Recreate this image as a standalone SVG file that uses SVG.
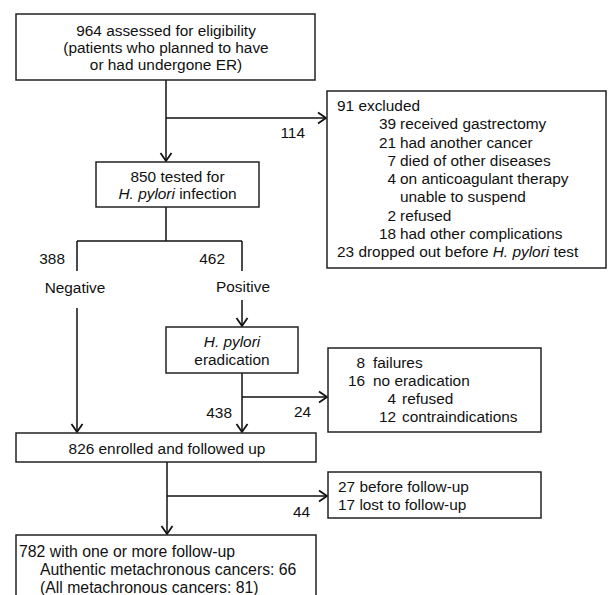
<svg xmlns="http://www.w3.org/2000/svg" width="608" height="595" viewBox="0 0 608 595">
<style>
.box{fill:#fff;stroke:#222;stroke-width:1.5}
.ln{fill:none;stroke:#111;stroke-width:1.5}
text{font-family:"Liberation Sans",Arial,sans-serif;font-size:15.4px;fill:#111}
.m{text-anchor:middle}
.e{text-anchor:end}
.i{font-style:italic}
.big{font-size:15.8px}
</style>
<defs>
<marker id="arr" viewBox="-10 -7 12 14" refX="0" refY="0" markerWidth="12" markerHeight="14" markerUnits="userSpaceOnUse" orient="auto">
<path d="M-8,-5.5 L0,0 L-8,5.5" fill="none" stroke="#111" stroke-width="1.8"/>
</marker>
</defs>
<rect width="608" height="595" fill="#fff"/>
<g id="connectors">
<path class="ln" d="M166,80 V161" marker-end="url(#arr)"/>
<path class="ln" d="M166,118 H326" marker-end="url(#arr)"/>
<path class="ln" d="M166,207 V241 M77,241 H242 M77,241 V271 M242,241 V271"/>
<path class="ln" d="M77,308 V432" marker-end="url(#arr)"/>
<path class="ln" d="M242,300 V326" marker-end="url(#arr)"/>
<path class="ln" d="M242,373 V432" marker-end="url(#arr)"/>
<path class="ln" d="M242,397 H327" marker-end="url(#arr)"/>
<path class="ln" d="M167,462 V534" marker-end="url(#arr)"/>
<path class="ln" d="M167,496 H327" marker-end="url(#arr)"/>
<text class="e" x="305" y="138">114</text>
<text class="e" x="65" y="264">388</text>
<text class="e" x="225" y="264">462</text>
<text class="m" x="75" y="293">Negative</text>
<text class="m" x="243" y="292">Positive</text>
<text class="e" x="232" y="418">438</text>
<text class="e" x="311" y="417">24</text>
<text class="e" x="310" y="517">44</text>
</g>
<g id="assessed">
<rect class="box" x="16" y="14" width="299" height="66"/>
<text class="m" x="166" y="36">964 assessed for eligibility</text>
<text class="m" x="166" y="53">(patients who planned to have</text>
<text class="m" x="166" y="70">or had undergone ER)</text>
</g>
<g id="tested">
<rect class="box" x="96" y="162" width="163" height="45"/>
<text class="m" x="177.5" y="182">850 tested for</text>
<text class="m" x="177.5" y="199"><tspan class="i">H. pylori</tspan> infection</text>
</g>
<g id="excluded">
<rect class="box" x="327" y="91" width="279" height="177"/>
<text x="337" y="111">91 excluded</text>
<text class="e" x="396" y="129">39</text><text x="400" y="129">received gastrectomy</text>
<text class="e" x="396" y="148">21</text><text x="400" y="148">had another cancer</text>
<text class="e" x="396" y="166">7</text><text x="400" y="166">died of other diseases</text>
<text class="e" x="396" y="184">4</text><text x="400" y="184">on anticoagulant therapy</text>
<text x="400" y="202">unable to suspend</text>
<text class="e" x="396" y="221">2</text><text x="400" y="221">refused</text>
<text class="e" x="396" y="239">18</text><text x="400" y="239">had other complications</text>
<text x="337" y="257">23 dropped out before <tspan class="i">H. pylori</tspan> test</text>
</g>
<g id="eradication">
<rect class="box" x="166" y="327" width="132" height="46"/>
<text class="m i" x="232" y="347">H. pylori</text>
<text class="m" x="232" y="365">eradication</text>
</g>
<g id="failures">
<rect class="box" x="328" y="348" width="213" height="84"/>
<text class="e" x="365" y="368">8</text><text x="373" y="368">failures</text>
<text class="e" x="365" y="386">16</text><text x="373" y="386">no eradication</text>
<text class="e" x="396" y="404">4</text><text x="402" y="404">refused</text>
<text class="e" x="396" y="422">12</text><text x="402" y="422">contraindications</text>
</g>
<g id="enrolled">
<rect class="box" x="16" y="433" width="300" height="29"/>
<text class="m" x="167" y="454">826 enrolled and followed up</text>
</g>
<g id="lost">
<rect class="box" x="328" y="472" width="213" height="46"/>
<text x="338" y="492">27 before follow-up</text>
<text x="338" y="510">17 lost to follow-up</text>
</g>
<g id="followup">
<rect class="box" x="16" y="535" width="300" height="70"/>
<text class="big" x="19" y="557">782 with one or more follow-up</text>
<text class="big" x="40" y="575">Authentic metachronous cancers: 66</text>
<text class="big" x="40" y="593">(All metachronous cancers: 81)</text>
</g>
</svg>
